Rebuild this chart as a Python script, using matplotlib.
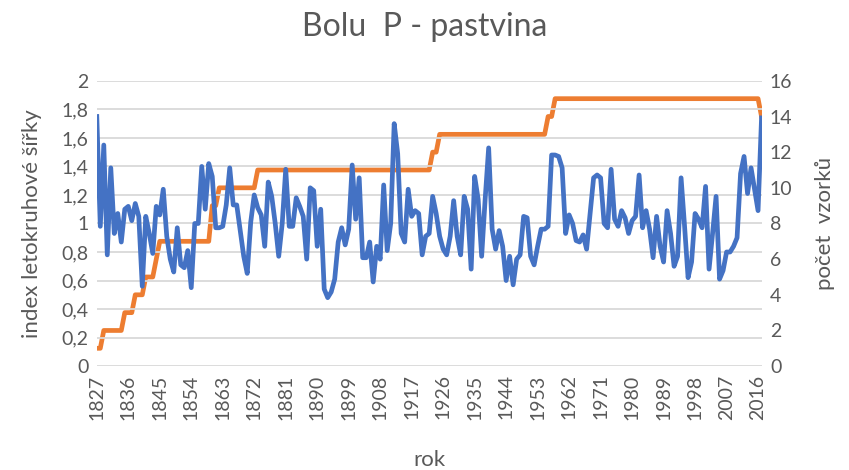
import matplotlib.pyplot as plt
import numpy as np

# years on the category axis
years = np.arange(1827, 2018)

# tree-ring index (left axis)
index_1827_1876 = [1.75, 0.98, 1.55, 0.78, 1.39, 0.93, 1.07, 0.87, 1.10, 1.12,
                   1.02, 1.14, 1.05, 0.56, 1.05, 0.93, 0.79, 1.12, 1.06, 1.24,
                   0.91, 0.75, 0.66, 0.97, 0.71, 0.69, 0.81, 0.55, 1.00, 1.00,
                   1.40, 1.10, 1.42, 1.33, 0.97, 0.97, 0.98, 1.13, 1.39, 1.13,
                   1.13, 0.95, 0.77, 0.65, 1.01, 1.20, 1.11, 1.06, 0.84, 1.29]
index_1877_1922 = [1.19, 1.00, 0.77, 1.00, 1.38, 0.98, 0.98, 1.18, 1.12, 1.05,
                   0.75, 1.25, 1.23, 0.84, 1.10, 0.54, 0.48, 0.52, 0.61, 0.87,
                   0.97, 0.85, 0.96, 1.41, 1.03, 1.32, 0.76, 0.76, 0.87, 0.59,
                   0.84, 0.75, 1.27, 0.81, 1.00, 1.70, 1.49, 0.93, 0.87, 1.24,
                   1.05, 1.09, 1.07, 0.78, 0.91, 0.93]
index_1923_1971 = [1.19, 1.07, 0.91, 0.82, 0.78, 0.91, 1.16, 0.91, 0.78, 1.19,
                   1.10, 0.68, 1.33, 1.17, 0.77, 1.17, 1.53, 0.96, 0.82, 0.95,
                   0.84, 0.60, 0.77, 0.57, 0.75, 0.78, 1.05, 1.04, 0.77, 0.71,
                   0.84, 0.96, 0.96, 0.98, 1.48, 1.48, 1.47, 1.39, 0.93, 1.06,
                   1.00, 0.88, 0.87, 0.92, 0.82, 1.07, 1.32, 1.34, 1.32]
index_1972_2017 = [1.00, 0.97, 1.38, 1.03, 0.98, 1.09, 1.04, 0.93, 1.02, 1.05,
                   1.34, 0.97, 1.09, 0.96, 0.76, 1.05, 0.84, 0.73, 1.09, 0.93,
                   0.70, 0.77, 1.32, 0.98, 0.62, 0.73, 1.07, 1.03, 0.97, 1.26,
                   0.68, 0.93, 1.19, 0.61, 0.67, 0.80, 0.80, 0.84, 0.90, 1.35,
                   1.47, 1.21, 1.39, 1.24, 1.09, 1.74]
ring_index = index_1827_1876 + index_1877_1922 + index_1923_1971 + index_1972_2017

# sample count (right axis): year where the count changes, and the new count
step_years = [1827, 1829, 1835, 1838, 1841, 1844, 1845, 1860, 1862, 1873,
              1923, 1925, 1956, 1958, 2017]
step_counts = [1, 2, 3, 4, 5, 6, 7, 9, 10, 11, 12, 13, 14, 15, 14]

samples = np.zeros(len(years))
for y, c in zip(step_years, step_counts):
    samples[years >= y] = c

blue = '#4472C4'
orange = '#ED7D31'
grey = '#595959'
plt.rcParams['font.family'] = ['Lato', 'DejaVu Sans']

fig, ax = plt.subplots(figsize=(8.49, 4.70), dpi=100)
fig.subplots_adjust(left=0.114, right=0.897, top=0.828, bottom=0.221)
ax2 = ax.twinx()

ax.plot(years, ring_index, color=blue, lw=3.4, zorder=3)
ax2.plot(years, samples, color=orange, lw=3.4, zorder=3)

ax.set_zorder(ax2.get_zorder() + 1)
ax.patch.set_visible(False)

ax.set_xlim(1827, 2017)
ax.set_ylim(0, 2)
ax2.set_ylim(0, 16)

yt = np.arange(0, 2.01, 0.2)
ax.set_yticks(yt)
ax.set_yticklabels([('%g' % round(v, 1)).replace('.', ',') for v in yt])
ax2.set_yticks(np.arange(0, 17, 2))
ax.set_xticks(np.arange(1827, 2018, 9))
ax.tick_params(axis='x', rotation=90)

ax.grid(axis='y', color='#d9d9d9', lw=1.3, zorder=0)
for a in (ax, ax2):
    for s in a.spines.values():
        s.set_visible(False)
    a.tick_params(length=0, labelsize=14, colors=grey, pad=6)

ax.set_ylabel('index letokruhové šířky', fontsize=16, color=grey, labelpad=14)
ax2.set_ylabel('počet  vzorků', fontsize=16, color=grey, labelpad=16)
ax.set_xlabel('rok', fontsize=16, color=grey, labelpad=22)
fig.suptitle('Bolu  P - pastvina', fontsize=23, color=grey, y=0.975)

plt.savefig('out.png', dpi=100)
